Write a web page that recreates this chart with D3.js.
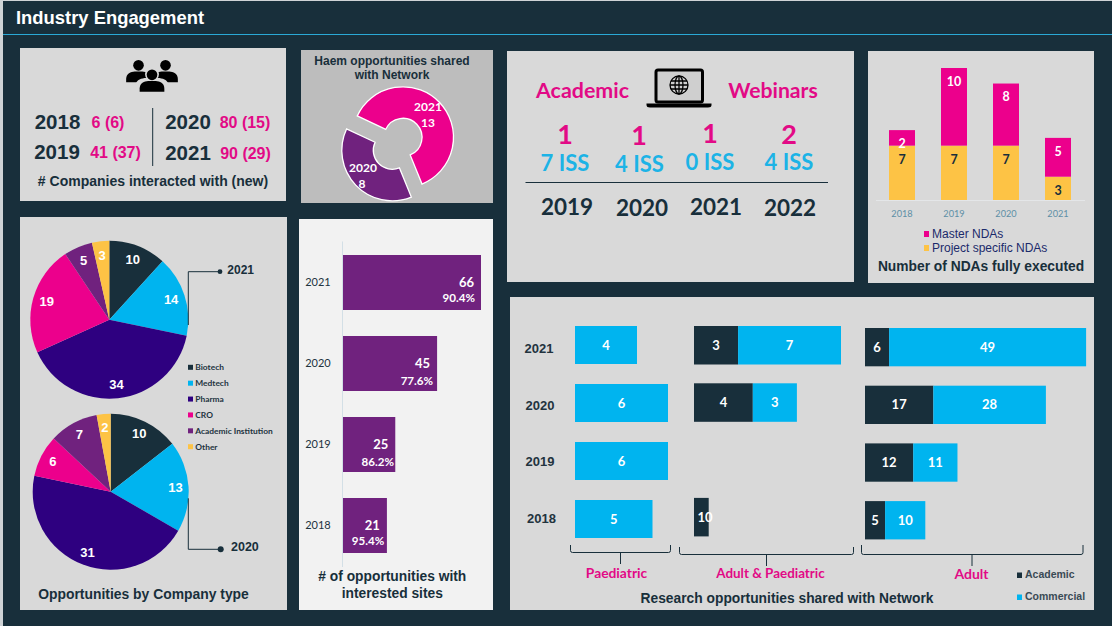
<!DOCTYPE html>
<html><head><meta charset="utf-8">
<script src="https://cdn.jsdelivr.net/npm/d3@7"></script>
<style>html,body{margin:0;padding:0;background:#182f3b;overflow:hidden}svg{display:block}</style>
</head><body><div id="c"></div>
<script>
// ---------- data ----------
const companyTypes = ["Biotech","Medtech","Pharma","CRO","Academic Institution","Other"];
const pie2021 = [10,14,34,19,5,3];
const pie2020 = [10,13,31,6,7,2];
const haemLabels = ["2021","2020"];
const haemValues = [13,8];
const companyYears = ["2018","2019","2020","2021"];
const companyCounts = ["6 (6)","41 (37)","80 (15)","90 (29)"];
const webinarYears = ["2019","2020","2021","2022"];
const webinarCounts = [1,1,1,2];
const webinarIss = [7,4,0,4];
const ndaYears = ["2018","2019","2020","2021"];
const ndaMaster = [2,10,8,5];
const ndaProject = [7,7,7,3];
const siteYears = ["2021","2020","2019","2018"];
const siteCounts = [66,45,25,21];
const sitePercent = ["90.4%","77.6%","86.2%","95.4%"];
const researchYears = ["2021","2020","2019","2018"];
const paedCommercial = [4,6,6,5];
const bothAcademic = [3,4,null,1];
const bothCommercial = [7,3,null,0];
const adultAcademic = [6,17,12,5];
const adultCommercial = [49,28,11,10];

// ---------- style ----------
const W=1112,H=626;
const NAVY="#182f3b",PINK="#ec008c",PINKT="#e20a86",BLUE="#00b4ef",ISS="#1cb3e6",IND="#2e0080",PUR="#70227e",YEL="#fdc345",PANEL="#d9d9d9";
const ARIAL="'Liberation Sans',Arial,sans-serif",CAL="Lato,sans-serif";
const pieColor=d3.scaleOrdinal().domain(companyTypes).range([NAVY,BLUE,IND,PINK,PUR,YEL]);

const svg=d3.select("#c").append("svg").attr("width",W).attr("height",H);
function T(x,y,s,o={}){
  return svg.append("text").attr("x",x).attr("y",y).attr("dy","0.35em").text(s)
   .attr("text-anchor",o.a||"middle").attr("font-family",o.f||ARIAL).attr("font-size",o.s||12)
   .attr("font-weight",o.w||"bold").attr("fill",o.c||NAVY);
}
function panel(x0,y0,x1,y1,c){svg.append("rect").attr("x",x0).attr("y",y0).attr("width",x1-x0).attr("height",y1-y0).attr("fill",c||PANEL);}

// frame
svg.append("rect").attr("width",W).attr("height",H).attr("fill",NAVY);
svg.append("rect").attr("width",3).attr("height",H).attr("fill","#cfd3d6");
svg.append("rect").attr("width",W).attr("height",1).attr("fill","#cfd3d6");
svg.append("rect").attr("x",3).attr("y",34).attr("width",W-3).attr("height",1).attr("fill","#2aa9d6");
T(16,18,"Industry Engagement",{a:"start",s:18.4,c:"#fff"});

panel(20,48,286,201);
panel(301,50,493,203,"#bdbdbd");
panel(507,51,854,282);
panel(868,51,1094,283);
panel(20,217,287,610);
panel(299,219,493,610,"#f2f2f2");
panel(510,297,1094,610);

// ---------- companies ----------
function person(cx,top,scale){
  const g=svg.append("g").attr("transform",`translate(${cx},${top}) scale(${scale})`).attr("fill","#000");
  g.append("circle").attr("cx",0).attr("cy",5.6).attr("r",5.6);
  g.append("path").attr("d","M-13,20 C-13,14 -8,12.2 -4,12 L4,12 C8,12.2 13,14 13,20 L13,23.5 L-13,23.5 Z");
}
person(138.5,60,.95);person(165.5,60,.95);
svg.append("circle").attr("cx",152).attr("cy",74).attr("r",7).attr("fill",PANEL);
svg.append("path").attr("fill",PANEL).attr("d","M136,94 L136,84 C136,80 142,78 146,78 L158,78 C162,78 168,80 168,84 L168,94 Z");
person(152,69.5,.95);
const coX=[57.5,57,188,188], coY=[121.5,152,121.5,152.5], cntX=[108,115.5,245,245.5];
companyYears.forEach((y,i)=>{
  T(coX[i],coY[i],y,{s:20.5});
  T(cntX[i],coY[i]+.7,companyCounts[i],{s:16,c:PINKT});
});
svg.append("line").attr("x1",152.7).attr("x2",152.7).attr("y1",108).attr("y2",166).attr("stroke",NAVY).attr("stroke-width",1);
T(153,181,"# Companies interacted with (new)",{s:14});

// ---------- haem donut ----------
T(392,60.5,"Haem opportunities shared",{s:12});
T(392,74.5,"with Network",{s:12});
const haemPie=d3.pie().sort(null).startAngle(-65*Math.PI/180).endAngle(295*Math.PI/180)(haemValues);
const haemArc=d3.arc().innerRadius(19).outerRadius(50.5);
const haemC=[[403,137.3],[392.3,150.3]], haemFill=[PINK,PUR];
const haemTxt=[[428,107,428,123],[363,168,362,184]];
haemPie.forEach((d,i)=>{
  svg.append("path").attr("d",haemArc(d)).attr("transform",`translate(${haemC[i]})`)
   .attr("fill",haemFill[i]).attr("stroke","#fff").attr("stroke-width",1.3);
  T(haemTxt[i][0],haemTxt[i][1],haemLabels[i],{f:CAL,s:12,c:"#fff"});
  T(haemTxt[i][2],haemTxt[i][3],haemValues[i],{f:CAL,s:12,c:"#fff"});
});

// ---------- webinars ----------
T(582.5,90.5,"Academic",{f:CAL,s:21.4,c:PINKT});
T(773,90.5,"Webinars",{f:CAL,s:21.2,c:PINKT});
svg.append("rect").attr("x",656).attr("y",70).attr("width",46.5).attr("height",32).attr("rx",2).attr("fill","#cfcfcf").attr("stroke","#000").attr("stroke-width",3);
svg.append("path").attr("d","M646.5,103.5 H711.5 V105 Q711.5,107.5 708,107.5 H650 Q646.5,107.5 646.5,105 Z").attr("fill","#000");
const globe=svg.append("g").attr("transform","translate(679,85)").attr("fill","none").attr("stroke","#000").attr("stroke-width",1.3);
globe.append("circle").attr("r",9);
globe.append("ellipse").attr("rx",4).attr("ry",9);
globe.append("path").attr("d","M0,-9V9M-9,0H9M-8,-4H8M-8,4H8");
const wX=[565,639,710,789], wY=[134.5,135.5,133.5,134.5];
const issX=[565,639.5,710,789], issY=[163.5,164.5,162.5,162.5];
const wyX=[567,642,716,790], wyY=[207.5,208,207,208.5];
webinarYears.forEach((y,i)=>{
  T(wX[i],wY[i],webinarCounts[i],{f:CAL,s:27,c:PINKT});
  T(issX[i],issY[i],webinarIss[i]+" ISS",{f:CAL,s:22,c:ISS});
  T(wyX[i],wyY[i],y,{f:CAL,s:22.5});
});
svg.append("line").attr("x1",525.5).attr("x2",828).attr("y1",182.5).attr("y2",182.5).attr("stroke",NAVY).attr("stroke-width",1);

// ---------- NDAs ----------
const ndaX=d3.scaleBand().domain(ndaYears).range([876,1084]).paddingInner(0.5).paddingOuter(0.25);
const ndaY=d3.scaleLinear().domain([0,17]).range([200,68]);
svg.append("line").attr("x1",876).attr("x2",1085).attr("y1",200.5).attr("y2",200.5).attr("stroke","#e4e6e8");
ndaYears.forEach((y,i)=>{
  const x=ndaX(y),b=ndaX.bandwidth(),cx=x+b/2;
  const p=ndaProject[i],m=ndaMaster[i];
  svg.append("rect").attr("x",x).attr("width",b).attr("y",ndaY(p)).attr("height",ndaY(0)-ndaY(p)).attr("fill",YEL);
  svg.append("rect").attr("x",x).attr("width",b).attr("y",ndaY(p+m)).attr("height",ndaY(p)-ndaY(p+m)).attr("fill",PINK);
  T(cx,ndaY(p)+13.5,p,{f:CAL,s:12.5,c:NAVY});
  T(cx,ndaY(p+m)+13.5,m,{f:CAL,s:12.5,c:"#fff"});
  T(cx,214,y,{f:CAL,s:9.2,c:"#5d8fa6",w:"normal"});
});
[["Master NDAs",PINK,233.5],["Project specific NDAs",YEL,247.5]].forEach(([t,c,y])=>{
  svg.append("rect").attr("x",924).attr("y",y-2.5).attr("width",5).attr("height",6).attr("fill",c);
  T(932,y,t,{a:"start",s:12,w:"normal",c:"#1b2a6b"});
});
T(981,266,"Number of NDAs fully executed",{s:13.8});

// ---------- pies ----------
function drawPie(vals,cx,cy,r){
  const arcs=d3.pie().sort(null)(vals);
  const arc=d3.arc().innerRadius(0).outerRadius(r);
  const lab=d3.arc().innerRadius(65).outerRadius(65);
  const g=svg.append("g").attr("transform",`translate(${cx},${cy})`);
  arcs.forEach((d,i)=>{
    g.append("path").attr("d",arc(d)).attr("fill",pieColor(companyTypes[i]));
  });
  arcs.forEach(d=>{
    const [x,y]=lab.centroid(d);
    T(cx+x,cy+y,d.value,{s:13,c:"#fff"});
  });
}
drawPie(pie2021,109.3,319.7,79);
drawPie(pie2020,110.7,491.7,78);
const legY=d3.scalePoint().domain(companyTypes).range([367.3,446.7]);
companyTypes.forEach(t=>{
  svg.append("rect").attr("x",188).attr("y",legY(t)-2.5).attr("width",5).attr("height",5).attr("fill",pieColor(t));
  T(195.3,legY(t),t,{a:"start",f:CAL,s:8.4,c:"#22333e"});
});
svg.append("path").attr("d","M188.3,325V271.7H220").attr("fill","none").attr("stroke",NAVY);
svg.append("circle").attr("cx",220).attr("cy",271.7).attr("r",2.4).attr("fill",NAVY);
T(227.3,269.5,"2021",{a:"start",s:12});
svg.append("path").attr("d","M188.3,498.3V549.3H220").attr("fill","none").attr("stroke",NAVY);
svg.append("circle").attr("cx",220.7).attr("cy",549.3).attr("r",3).attr("fill",NAVY);
T(231,546.7,"2020",{a:"start",s:12.5});
T(143.5,594,"Opportunities by Company type",{s:13.9});

// ---------- sites ----------
const sx=d3.scaleLinear().domain([0,66]).range([343,481]);
const sy=d3.scaleBand().domain(siteYears).range([242,566]).paddingInner(26/81).paddingOuter(13/81);
const pctGap=[6,4,1.3,2.7], pctDy=[43,45,45,43];
svg.append("line").attr("x1",342.5).attr("x2",342.5).attr("y1",241.5).attr("y2",567).attr("stroke","#d3dfe6");
siteYears.forEach((y,i)=>{
  const v=siteCounts[i],top=sy(y);
  svg.append("rect").attr("x",sx(0)).attr("y",top).attr("width",sx(v)-sx(0)).attr("height",sy.bandwidth()).attr("fill",PUR);
  T(318,top+27,y,{f:CAL,s:11,w:"normal",c:"#22333e"});
  T(sx(v)-7,top+27.7,v,{a:"end",f:CAL,s:13,c:"#fff"});
  T(sx(v)-pctGap[i],top+pctDy[i],sitePercent[i],{a:"end",f:CAL,s:11.6,c:"#fff"});
});
T(392.3,576.3,"# of opportunities with",{s:13.8});
T(392.3,593.3,"interested sites",{s:13.8});

// ---------- research ----------
function stacked(acad,comm,x0,unit,top,step,h){
  const x=d3.scaleLinear().domain([0,1]).range([x0,x0+unit]);
  const y=d3.scaleBand().domain(researchYears).range([top,top+3*step+h]).paddingInner(1-h/step).paddingOuter(0);
  researchYears.forEach((yr,i)=>{
    const a=acad?acad[i]:0,c=comm[i];
    if(a==null||c==null) return;
    if(a>0) svg.append("rect").attr("x",x(0)).attr("y",y(yr)).attr("width",x(a)-x(0)).attr("height",h).attr("fill",NAVY);
    if(c>0) svg.append("rect").attr("x",x(a)).attr("y",y(yr)).attr("width",x(a+c)-x(a)).attr("height",h).attr("fill",BLUE);
    if(acad) T((x(0)+x(a))/2,y(yr)+h/2,a,{f:CAL,s:13,c:"#fff"});
    T((x(a)+x(a+c))/2,y(yr)+h/2,c,{f:CAL,s:13,c:"#fff"});
  });
}
stacked(null,paedCommercial,575,15.5,326,58,38);
stacked(bothAcademic,bothCommercial,694,14.7,326,57.3,38.5);
stacked(adultAcademic,adultCommercial,865,4.02,328,57.7,38.3);
const ryX=[539,540,540,541.4], ryY=[348,405,461,518];
researchYears.forEach((y,i)=>T(ryX[i],ryY[i],y,{s:13,c:"#22333e"}));
function brace(x0,x1,xm,y0,y1,y2){
  svg.append("path").attr("fill","none").attr("stroke",NAVY).attr("stroke-width",1)
   .attr("d",`M${x0},${y0} V${y1-2} Q${x0},${y1} ${x0+2},${y1} H${x1-2} Q${x1},${y1} ${x1},${y1-2} V${y0} M${xm},${y1} V${y2}`);
}
brace(570.5,670.5,620.5,545,552.5,564);
brace(679.5,853.5,766.5,547,554.5,566);
brace(861.5,1083,972,545,554.5,566);
T(616.5,573.5,"Paediatric",{f:CAL,s:13.8,c:PINKT});
T(770.5,573.5,"Adult & Paediatric",{f:CAL,s:13.4,c:PINKT});
T(971.5,574.5,"Adult",{f:CAL,s:14,c:PINKT});
T(787,598,"Research opportunities shared with Network",{s:13.8});
[["Academic",NAVY,575],["Commercial",BLUE,597]].forEach(([t,c,y])=>{
  svg.append("rect").attr("x",1017).attr("y",y-2.5).attr("width",5).attr("height",5.5).attr("fill",c);
  T(1025,y-.5,t,{a:"start",s:10.5,c:"#3a4a55"});
});
</script></body></html>
